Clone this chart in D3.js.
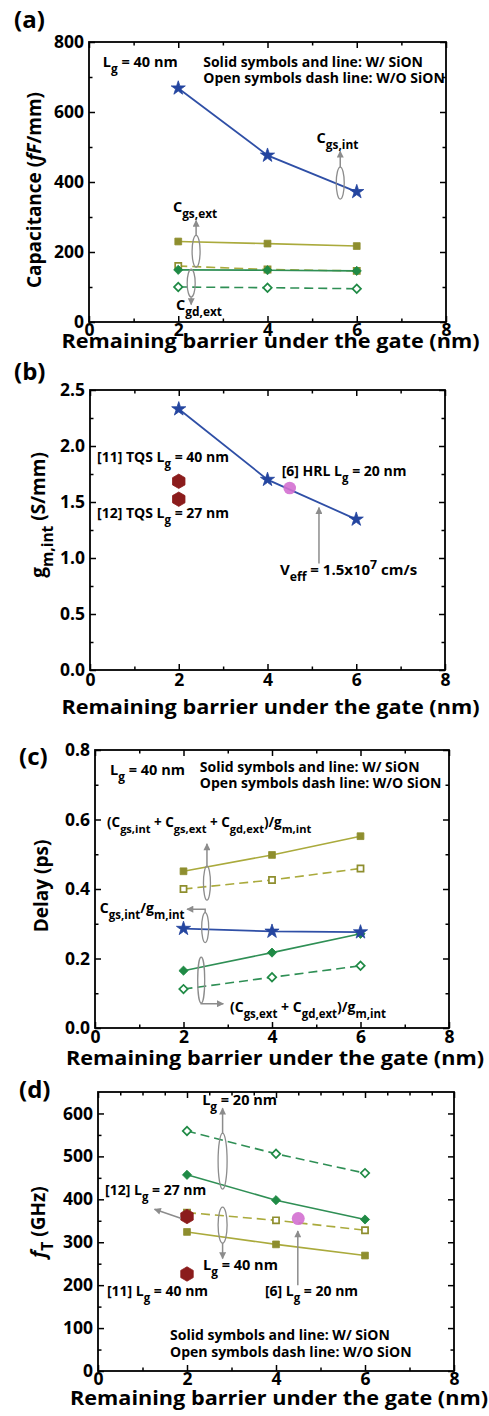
<!DOCTYPE html>
<html><head><meta charset="utf-8">
<script src="https://cdn.jsdelivr.net/npm/d3@7"></script>
<style>
body{margin:0;background:#fff}
svg{display:block}
text{font-family:'Open Sans',sans-serif;font-weight:700;fill:#000}
</style></head>
<body><svg id="chart" width="489" height="1416"></svg>
<script>
// ---------- data ----------
const barrier = [2, 4, 6];
const xTickValues = [0, 2, 4, 6, 8];
const xMinorValues = [1, 3, 5, 7];
// (a) capacitance (fF/mm)
const capTicks = [0, 200, 400, 600, 800];
const cgsIntW = [668, 476, 372];
const cgsExtW = [230, 224, 217];
const cgsExtWo = [160, 150, 146];
const cgdExtW = [149, 148, 146];
const cgdExtWo = [100, 98, 95];
// (b) intrinsic transconductance (S/mm)
const gmTicks = [0, 0.5, 1.0, 1.5, 2.0, 2.5];
const gmIntW = [2.33, 1.70, 1.345];
const refTqsX = [2, 2];
const refTqsGm = [1.685, 1.525];
const refHrlX = [4.5];
const refHrlGm = [1.625];
// (c) delay (ps)
const delayTicks = [0, 0.2, 0.4, 0.6, 0.8];
const delayTotalW = [0.451, 0.498, 0.552];
const delayTotalWo = [0.400, 0.426, 0.459];
const delayIntW = [0.286, 0.278, 0.276];
const delayExtW = [0.165, 0.217, 0.271];
const delayExtWo = [0.112, 0.146, 0.179];
// (d) fT (GHz)
const ftTicks = [0, 100, 200, 300, 400, 500, 600];
const ft20Wo = [559, 506, 461];
const ft20W = [457, 398, 353];
const ft40Wo = [369, 351, 328];
const ft40W = [324, 295, 269];
const refTqsFt = [360, 226];
const refHrlFt = [355];

// ---------- styles ----------
const C = {
  blue: '#24459f', blueLine: '#2f4fa6',
  olive: '#8e8e2e', oliveLine: '#aaaa3c',
  green: '#1f8a45', greenLine: '#2f8f55',
  hex: '#8b1c1c', pink: '#d36fd0', gray: '#8c8c8c'
};
const FS = 14; // annotation font size

const svg = d3.select('#chart');
const defs = svg.append('defs');
defs.append('marker').attr('id', 'arr').attr('viewBox', '0 0 10 10')
  .attr('refX', 9).attr('refY', 5).attr('markerWidth', 9).attr('markerHeight', 7)
  .attr('markerUnits', 'userSpaceOnUse').attr('orient', 'auto')
  .append('path').attr('d', 'M0,0L10,5L0,10z').attr('fill', C.gray);

function rich(g, x, y, parts, size, anchor) {
  const t = g.append('text').attr('x', x).attr('y', y)
    .attr('font-size', size).attr('text-anchor', anchor || 'start');
  let shift = 0;
  parts.forEach(p => {
    const [s, type] = typeof p === 'string' ? [p, 'n'] : p;
    const target = type === 'sub' ? size * 0.42 : type === 'sup' ? -size * 0.4 : 0;
    const ts = t.append('tspan').text(s).attr('dy', target - shift);
    shift = target;
    if (type === 'sub' || type === 'sup') ts.attr('font-size', size * 0.82);
    if (type === 'i') ts.attr('font-style', 'italic');
  });
  return t;
}

function panel(p) {
  const x = d3.scaleLinear().domain([0, 8]).range([p.left, p.right]);
  const y = d3.scaleLinear().domain(p.yDomain).range([p.bottom, p.top]);
  const g = svg.append('g');
  const put = (axis, tr) => g.append('g').attr('transform', tr).call(axis).call(s => {
    s.select('.domain').remove();
    s.attr('font-family', null).attr('font-size', null).attr('fill', null);
    s.selectAll('line').attr('stroke', '#000').attr('stroke-width', 1.5);
    s.selectAll('text').attr('font-size', 17.5);
  });
  put(d3.axisBottom(x).tickValues(xTickValues).tickSizeInner(-6).tickSizeOuter(0).tickPadding(p.xPad || 4).tickFormat(d3.format('d')), `translate(0,${p.bottom})`);
  put(d3.axisBottom(x).tickValues(xMinorValues).tickSizeInner(-3.5).tickSizeOuter(0).tickFormat(''), `translate(0,${p.bottom})`);
  put(d3.axisTop(x).tickValues(xTickValues).tickSizeInner(-6).tickSizeOuter(0).tickFormat(''), `translate(0,${p.top})`);
  put(d3.axisTop(x).tickValues(p.topMinor || xMinorValues).tickSizeInner(-3.5).tickSizeOuter(0).tickFormat(''), `translate(0,${p.top})`);
  put(d3.axisLeft(y).tickValues(p.yTicks).tickSizeInner(-6).tickSizeOuter(0).tickPadding(5).tickFormat(p.fmt), `translate(${p.left},0)`);
  put(d3.axisLeft(y).tickValues(p.yMinor).tickSizeInner(-3.5).tickSizeOuter(0).tickFormat(''), `translate(${p.left},0)`);
  put(d3.axisRight(y).tickValues(p.yTicks).tickSizeInner(-6).tickSizeOuter(0).tickFormat(''), `translate(${p.right},0)`);
  put(d3.axisRight(y).tickValues(p.yMinor).tickSizeInner(-3.5).tickSizeOuter(0).tickFormat(''), `translate(${p.right},0)`);
  g.append('rect').attr('x', p.left).attr('y', p.top).attr('width', p.right - p.left)
    .attr('height', p.bottom - p.top).attr('fill', 'none').attr('stroke', '#000').attr('stroke-width', 1.8);
  // axis titles
  rich(svg, (p.left + p.right) / 2 + 3, p.xTitleY, ['Remaining barrier under the gate (nm)'], 19, 'middle')
    .attr('textLength', 418).attr('lengthAdjust', 'spacingAndGlyphs');
  rich(svg, 0, 0, p.yTitle, 19, 'middle').attr('transform', `translate(${p.yTitleX},${p.yTitleCY}) rotate(-90)`);
  rich(svg, p.labelX, p.labelY, [p.label], 24, 'start');
  return { x, y, g };
}

function hexPath(r) {
  return d3.range(6).map(i => {
    const a = Math.PI / 6 + i * Math.PI / 3;
    return [r * Math.cos(a), r * Math.sin(a)];
  }).map((d, i) => (i ? 'L' : 'M') + d[0].toFixed(2) + ',' + d[1].toFixed(2)).join('') + 'Z';
}

function marker(g, type, cx, cy, color, open) {
  let path, rot = 0;
  if (type === 'star') path = d3.symbol(d3.symbolStar, 62)();
  else if (type === 'square') path = d3.symbol(d3.symbolSquare, open ? 38 : 46)();
  else if (type === 'diamond') { path = d3.symbol(d3.symbolSquare, open ? 36 : 42)(); rot = 45; }
  else if (type === 'hex') path = hexPath(7.2);
  g.append('path').attr('d', path)
    .attr('transform', `translate(${cx},${cy}) rotate(${rot})`)
    .attr('fill', open ? '#fff' : color)
    .attr('stroke', color).attr('stroke-width', open ? 1.7 : 0.8);
}

function series(P, vals, type, color, lineColor, open, dashed, width) {
  const line = d3.line().x((d, i) => P.x(barrier[i])).y(d => P.y(d));
  P.g.append('path').attr('d', line(vals)).attr('fill', 'none')
    .attr('stroke', lineColor).attr('stroke-width', width || 1.6)
    .attr('stroke-dasharray', dashed ? '9,5' : null);
  vals.forEach((v, i) => marker(P.g, type, P.x(barrier[i]), P.y(v), color, open));
}

function ellipse(P, cx, cy, rx, ry) {
  P.g.append('ellipse').attr('cx', P.x(cx)).attr('cy', P.y(cy)).attr('rx', rx).attr('ry', ry)
    .attr('fill', 'none').attr('stroke', C.gray).attr('stroke-width', 1.3);
}
function arrow(P, pts) {
  P.g.append('path').attr('d', d3.line()(pts.map(d => [P.x(d[0]), P.y(d[1])])))
    .attr('fill', 'none').attr('stroke', C.gray).attr('stroke-width', 1.5).attr('marker-end', 'url(#arr)');
}
function note(P, x, y, parts, size, anchor) { return rich(P.g, P.x(x), P.y(y), parts, size || FS, anchor); }

const Lg = v => ['L', ['g', 'sub'], ' = ' + v + ' nm'];

// ---------- panel (a) ----------
const A = panel({ left: 89, right: 446, top: 42, bottom: 322, yDomain: [0, 800], yTicks: capTicks,
  yMinor: [100, 300, 500, 700], fmt: d3.format('d'), xTitleY: 348, xPad: 2,
  yTitle: ['Capacitance (', ['fF', 'i'], '/mm)'], yTitleX: 41, yTitleCY: 190, label: '(a)', labelX: 14, labelY: 28 });
series(A, cgdExtWo, 'diamond', C.green, C.greenLine, true, true);
series(A, cgsExtWo, 'square', C.olive, C.oliveLine, true, true);
series(A, cgdExtW, 'diamond', C.green, C.greenLine, false, false);
series(A, cgsExtW, 'square', C.olive, C.oliveLine, false, false);
series(A, cgsIntW, 'star', C.blue, C.blueLine, false, false, 1.8);
note(A, 0.31, 729, Lg(40), 14.5);
note(A, 2.56, 729, ['Solid symbols and line: W/ SiON']);
note(A, 2.56, 683, ['Open symbols dash line: W/O SiON']);
ellipse(A, 5.63, 397, 4, 16);
arrow(A, [[5.63, 443], [5.63, 488]]);
note(A, 5.1, 511, ['C', ['gs,int', 'sub']], 14.5);
ellipse(A, 2.4, 202, 4, 16);
arrow(A, [[2.4, 248], [2.4, 290]]);
note(A, 1.88, 314, ['C', ['gs,ext', 'sub']], 14.5);
ellipse(A, 2.29, 111, 4, 14);
arrow(A, [[2.29, 70], [2.29, 50]]);
note(A, 1.95, 34, ['C', ['gd,ext', 'sub']], 14.5);

// ---------- panel (b) ----------
const B = panel({ left: 90, right: 445, top: 390, bottom: 670, yDomain: [0, 2.5], yTicks: gmTicks,
  yMinor: [0.25, 0.75, 1.25, 1.75, 2.25], fmt: d3.format('.1f'), xTitleY: 714,
  yTitle: ['g', ['m,int', 'sub'], ' (S/mm)'], yTitleX: 45, yTitleCY: 515, label: '(b)', labelX: 14, labelY: 380 });
series(B, gmIntW, 'star', C.blue, C.blueLine, false, false, 1.8);
refTqsX.forEach((xv, i) => marker(B.g, 'hex', B.x(xv), B.y(refTqsGm[i]), C.hex, false));
refHrlX.forEach((xv, i) => {
  B.g.append('circle').attr('cx', B.x(xv)).attr('cy', B.y(refHrlGm[i])).attr('r', 6.3)
    .attr('fill', C.pink).attr('fill-opacity', 0.9);
});
note(B, 0.16, 1.857, ['[11] TQS ', ...Lg(40)]);
note(B, 0.16, 1.357, ['[12] TQS ', ...Lg(27)]);
note(B, 4.32, 1.73, ['[6] HRL ', ...Lg(20)]);
arrow(B, [[5.16, 0.95], [5.16, 1.45]]);
note(B, 4.28, 0.85, ['V', ['eff', 'sub'], ' = 1.5x10', ['7', 'sup'], ' cm/s'], 15);

// ---------- panel (c) ----------
const Cc = panel({ left: 95, right: 449, top: 750, bottom: 1028, yDomain: [0, 0.8], yTicks: delayTicks,
  yMinor: [0.1, 0.3, 0.5, 0.7], fmt: d3.format('.1f'), xTitleY: 1065, xPad: 3,
  yTitle: ['Delay (ps)'], yTitleX: 48, yTitleCY: 886, label: '(c)', labelX: 19, labelY: 765 });
series(Cc, delayExtWo, 'diamond', C.green, C.greenLine, true, true);
series(Cc, delayTotalWo, 'square', C.olive, C.oliveLine, true, true);
series(Cc, delayExtW, 'diamond', C.green, C.greenLine, false, false);
series(Cc, delayTotalW, 'square', C.olive, C.oliveLine, false, false);
series(Cc, delayIntW, 'star', C.blue, C.blueLine, false, false, 1.8);
note(Cc, 0.34, 0.728, Lg(40), 14.5);
note(Cc, 2.37, 0.737, ['Solid symbols and line: W/ SiON']);
note(Cc, 2.37, 0.691, ['Open symbols dash line: W/O SiON']);
note(Cc, 0.27, 0.578, ['(C', ['gs,int', 'sub'], ' + C', ['gs,ext', 'sub'], ' + C', ['gd,ext', 'sub'], ')/g', ['m,int', 'sub']], 13.5);
ellipse(Cc, 2.53, 0.417, 3.5, 17);
arrow(Cc, [[2.53, 0.466], [2.53, 0.53]]);
note(Cc, 0.11, 0.331, ['C', ['gs,int', 'sub'], '/g', ['m,int', 'sub']], 14);
ellipse(Cc, 2.49, 0.289, 3.5, 15);
arrow(Cc, [[2.49, 0.331], [2.49, 0.342], [2.08, 0.342]]);
ellipse(Cc, 2.4, 0.138, 3.5, 23);
arrow(Cc, [[2.4, 0.072], [2.4, 0.07], [2.9, 0.07]]);
note(Cc, 3.05, 0.046, ['(C', ['gs,ext', 'sub'], ' + C', ['gd,ext', 'sub'], ')/g', ['m,int', 'sub']], 14);

// ---------- panel (d) ----------
const D = panel({ left: 98, right: 454, top: 1092, bottom: 1371, yDomain: [0, 650], yTicks: ftTicks,
  yMinor: [50, 150, 250, 350, 450, 550], fmt: d3.format('d'), xTitleY: 1405, xPad: 2,
  topMinor: [0.5, 1, 1.5, 2.5, 3, 3.5, 4.5, 5, 5.5, 6.5, 7, 7.5],
  yTitle: [['f', 'i'], ['T', 'sub'], ' (GHz)'], yTitleX: 45, yTitleCY: 1222, label: '(d)', labelX: 19, labelY: 1098 });
series(D, ft20Wo, 'diamond', C.green, C.greenLine, true, true);
series(D, ft40Wo, 'square', C.olive, C.oliveLine, true, true);
series(D, ft20W, 'diamond', C.green, C.greenLine, false, false);
series(D, ft40W, 'square', C.olive, C.oliveLine, false, false);
refTqsFt.forEach(v => marker(D.g, 'hex', D.x(2), D.y(v), C.hex, false));
refHrlX.forEach((xv, i) => {
  D.g.append('circle').attr('cx', D.x(xv)).attr('cy', D.y(refHrlFt[i])).attr('r', 6.5)
    .attr('fill', C.pink).attr('fill-opacity', 0.9);
});
note(D, 2.34, 620, Lg(20), 14.5);
ellipse(D, 2.8, 489, 4.5, 28);
arrow(D, [[2.8, 554], [2.8, 612]]);
ellipse(D, 2.8, 340, 4.5, 18);
arrow(D, [[2.8, 298], [2.8, 262]]);
note(D, 2.36, 235, Lg(40), 14.5);
note(D, 0.16, 410, ['[12] ', ...Lg(27)]);
arrow(D, [[1.86, 356], [1.27, 377]]);
note(D, 0.2, 175, ['[11] ', ...Lg(40)]);
note(D, 3.75, 175, ['[6] ', ...Lg(20)]);
arrow(D, [[4.49, 200], [4.49, 326]]);
note(D, 1.62, 72, ['Solid symbols and line: W/ SiON']);
note(D, 1.62, 33, ['Open symbols dash line: W/O SiON']);
</script></body></html>
